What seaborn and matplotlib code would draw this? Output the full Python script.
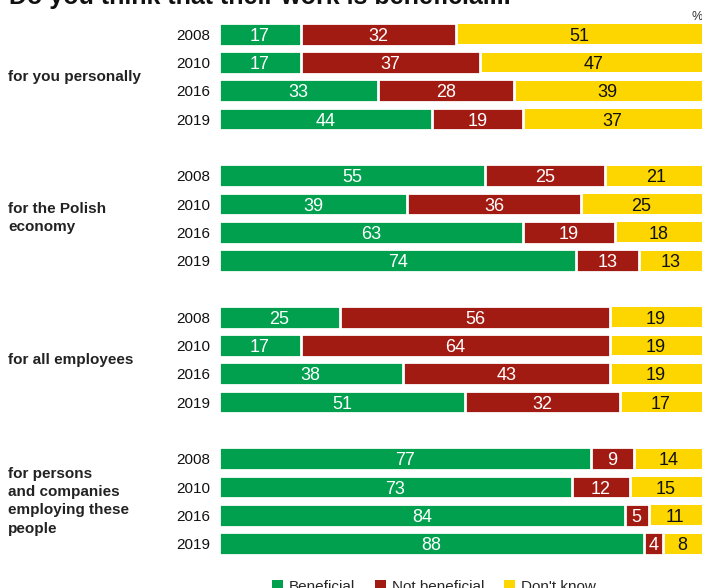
import numpy as np
import pandas as pd
import matplotlib
matplotlib.use("Agg")
import matplotlib.pyplot as plt
from matplotlib.patches import Patch
from matplotlib.transforms import blended_transform_factory
import seaborn as sns

# Survey results (%), four waves per question
years = ["2008", "2010", "2016", "2019"]
groups = [
    "for you personally",
    "for the Polish\neconomy",
    "for all employees",
    "for persons\nand companies\nemploying these\npeople",
]
beneficial = [17, 17, 33, 44, 55, 39, 63, 74, 25, 17, 38, 51, 77, 73, 84, 88]
not_beneficial = [32, 37, 28, 19, 25, 36, 19, 13, 56, 64, 43, 32, 9, 12, 5, 4]
dont_know = [51, 47, 39, 37, 21, 25, 18, 13, 19, 19, 19, 17, 14, 15, 11, 8]
series_names = ["Beneficial", "Not beneficial", "Don't know"]

GREEN = "#00A04F"
RED = "#A21B12"
YELLOW = "#FDD600"

sns.set_theme(style="white")
plt.rcParams["font.family"] = ["Liberation Sans", "DejaVu Sans"]

W, H = 702, 588
fig = plt.figure(figsize=(W / 100, H / 100), dpi=100)

# one row per year, an empty gap row between questions
pos = np.array([g * 5 + r for g in range(len(groups)) for r in range(len(years))], dtype=float)
row_px = 28.3
first_px = 34.2
ax = fig.add_axes([219 / W, 0, 483 / W, 1])

b = np.array(beneficial, dtype=float)
nb = np.array(not_beneficial, dtype=float)
dk = np.array(dont_know, dtype=float)

df = pd.DataFrame({
    "pos": pos,
    "total": b + nb + dk,
    "b_nb": b + nb,
    "b": b,
})

# stacked by overdrawing cumulative totals; white outlines separate segments
edge_lw = 2.0
bar_w = 0.8
common = dict(orient="y", native_scale=True, ax=ax, errorbar=None, saturation=1)
sns.barplot(data=df, x="total", y="pos", color=YELLOW, edgecolor="none",
            width=bar_w - edge_lw * 100 / 72 / row_px, **common)
sns.barplot(data=df, x="b_nb", y="pos", color=RED, edgecolor="white",
            linewidth=edge_lw, width=bar_w, **common)
sns.barplot(data=df, x="b", y="pos", color=GREEN, edgecolor="white",
            linewidth=edge_lw, width=bar_w, **common)

ax.set_xlim(0, 100)
top = -first_px / row_px
bottom = top + H / row_px
ax.set_ylim(bottom, top)

# segment value labels
for i, p in enumerate(pos):
    starts = [0, b[i], b[i] + nb[i]]
    vals = [b[i], nb[i], dk[i]]
    cols = ["white", "white", "#111111"]
    for s, v, c in zip(starts, vals, cols):
        ax.text(s + v / 2, p, f"{int(v)}", ha="center", va="center_baseline",
                fontsize=13, color=c)

# year labels
ax.set_yticks(pos)
ax.set_yticklabels(years * len(groups), fontsize=11, color="#111111")
ax.tick_params(axis="y", length=0, pad=6)
ax.set_xticks([])
ax.set_xlabel("")
ax.set_ylabel("")
for sp in ax.spines.values():
    sp.set_visible(False)

# question labels
trans = blended_transform_factory(fig.transFigure, ax.transData)
for g, label in enumerate(groups):
    ax.text(8 / W, g * 5 + 1.5, label, transform=trans, ha="left", va="center",
            fontsize=11, fontweight="bold", color="#222222", linespacing=1.4)

fig.text(9 / W, 1 - 4 / H, "Do you think that their work is beneficial...",
         fontsize=18, fontweight="bold", color="#111111", ha="left", va="baseline")
fig.text(697 / W, 1 - 17 / H, "%", fontsize=9, color="#333333", ha="center", va="center")

handles = [Patch(facecolor=c, edgecolor="none") for c in (GREEN, RED, YELLOW)]
fig.legend(handles, series_names, loc="center", bbox_to_anchor=(434 / W, 1 - 587 / H),
           ncol=3, frameon=False, fontsize=11, handlelength=0.7, handleheight=0.7,
           handletextpad=0.4, columnspacing=1.3)

fig.savefig("out.png", dpi=100)
